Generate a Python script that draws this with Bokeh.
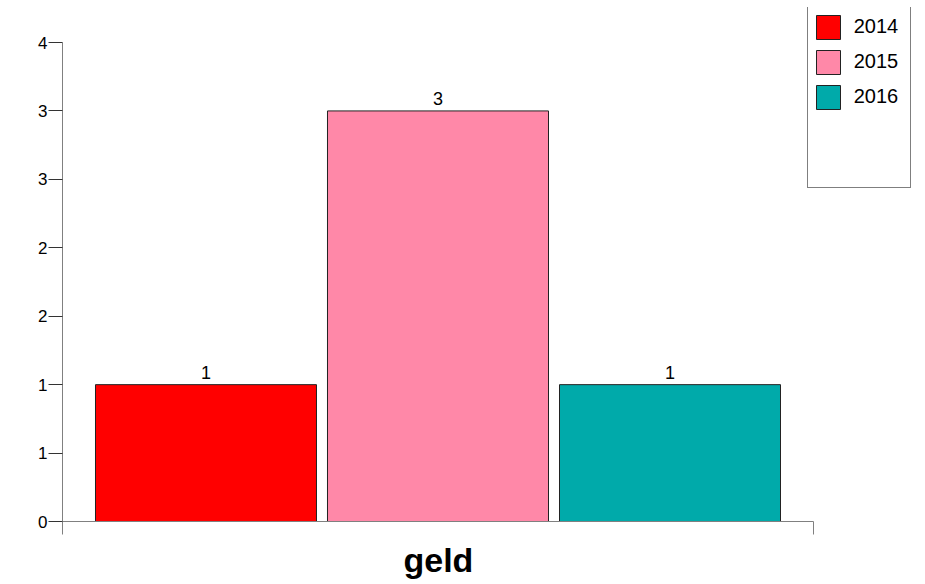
from bokeh.plotting import figure
from bokeh.models import (ColumnDataSource, Range1d, FixedTicker, Legend, LegendItem, Title)
from bokeh.core.properties import value
from bokeh.embed import file_html
from bokeh.resources import INLINE

# ---- data ----
years = ["2014", "2015", "2016"]
counts = [1, 3, 1]
colors = ["#FF0000", "#FF88A8", "#00AAAA"]
category = "geld"
y_ticks = [0, 0.5, 1, 1.5, 2, 2.5, 3, 3.5]
y_tick_labels = ["0", "1", "1", "2", "2", "3", "3", "4"]

FONT = "Liberation Sans"

xs = list(range(1, len(years) + 1))
src = ColumnDataSource(dict(x=xs, top=counts, color=colors, year=years,
                            lab=[str(c) for c in counts]))

# layout geometry (pixels)
W, H = 925, 584
f_left, f_right, f_top, f_bottom = 62, 912, 7, 521
axis_top_px = 42
y_axis_max = y_ticks[-1]
y_end = y_axis_max * (f_bottom - f_top) / (f_bottom - axis_top_px)

x0, x1 = 0.3815, 3.6185          # x-axis extent (data)
px_per_x = (813 - 62) / (x1 - x0)
x_end = x0 + (f_right - f_left) / px_per_x

p = figure(width=W, height=H, output_backend="svg", toolbar_location=None,
           x_range=Range1d(x0, x_end), y_range=Range1d(0, y_end),
           min_border_left=f_left, min_border_right=W - f_right,
           min_border_top=f_top, min_border_bottom=H - f_bottom)
p.background_fill_color = "white"
p.border_fill_color = "white"
p.outline_line_color = None
p.grid.visible = False

bars = p.vbar(x="x", top="top", width=0.9526, bottom=0, source=src,
              fill_color="color", line_color="#222222", line_width=1)

p.text(x="x", y="top", text="lab", source=src, text_align="center",
       text_baseline="bottom", y_offset=-6, text_font=value(FONT),
       text_font_size="18px", text_color="black")

# y axis
ya = p.yaxis[0]
ya.bounds = (0, y_axis_max)
ya.ticker = FixedTicker(ticks=y_ticks)
ya.major_label_overrides = {t: l for t, l in zip(y_ticks, y_tick_labels)}
ya.major_tick_out = 14
ya.major_tick_in = 0
ya.minor_tick_out = 0
ya.minor_tick_in = 0
ya.major_label_standoff = 1
ya.major_label_text_font = FONT
ya.major_label_text_font_size = "17px"
ya.major_label_text_color = "black"
ya.axis_line_color = "#808080"
ya.major_tick_line_color = "#333333"

# x axis
xa = p.xaxis[0]
xa.bounds = (x0, x1)
xa.ticker = FixedTicker(ticks=[x0, x1])
xa.major_label_overrides = {x0: "", x1: ""}
xa.major_label_text_font_size = "0px"
xa.major_label_standoff = 0
xa.major_tick_out = 13
xa.major_tick_in = 0
xa.minor_tick_out = 0
xa.minor_tick_in = 0
xa.axis_line_color = "#808080"
xa.major_tick_line_color = "#808080"

# category label under the axis, centred on the bars
label_size = 34
label_w = 2.03 * label_size
bars_center_px = f_left + (2 - x0) * px_per_x
p.add_layout(Title(text=category, align="left",
                   offset=bars_center_px - f_left - label_w / 2,
                   text_font=FONT, text_font_size=f"{label_size}px",
                   text_font_style="bold", text_color="black",
                   standoff=9), "below")

# legend (with blank rows to reproduce the tall box)
dummy = p.vbar(x=[], top=[], width=0.5, fill_alpha=0, line_alpha=0)
items = []
for i, y in enumerate(years):
    items.append(LegendItem(label=y, renderers=[bars], index=i))
items.append(LegendItem(label=" ", renderers=[dummy]))
items.append(LegendItem(label=" ", renderers=[dummy]))
legend = Legend(items=items, location=(806.7 - f_left, f_bottom - 187.7),
                glyph_width=30, glyph_height=30, label_height=30,
                label_width=51, spacing=5, padding=5, margin=0,
                label_standoff=11, label_text_font=FONT,
                label_text_font_size="20px", label_text_color="black",
                border_line_color="black", border_line_width=1,
                background_fill_color="white", background_fill_alpha=1)
p.add_layout(legend)

open("out.html", "w").write(file_html(p, INLINE))
